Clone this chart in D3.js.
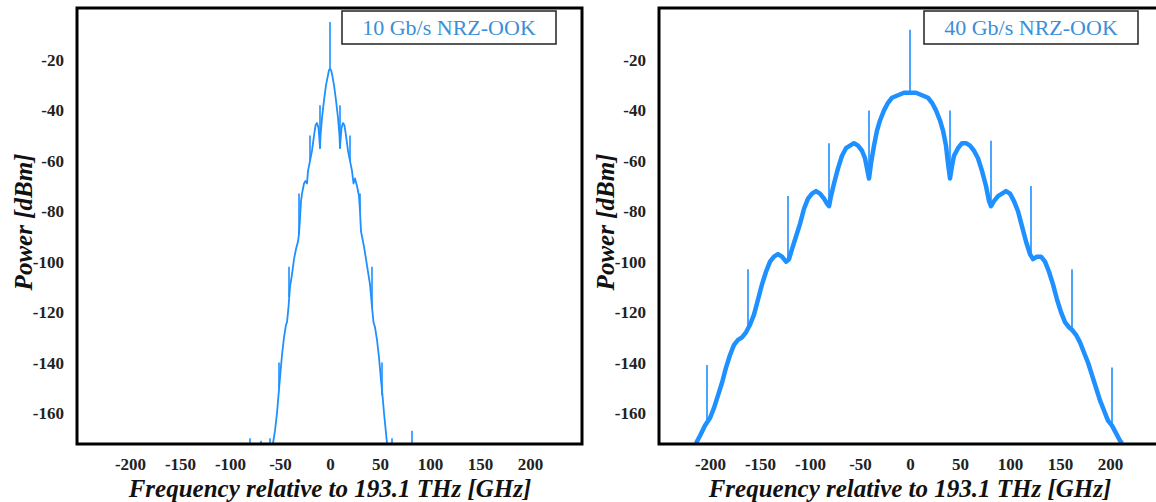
<!DOCTYPE html>
<html>
<head>
<meta charset="utf-8">
<script src="https://cdn.jsdelivr.net/npm/d3@7"></script>
<style>
  body { margin: 0; background: #fff; }
  svg { display: block; }
  text { font-family: "Liberation Serif", "DejaVu Serif", serif; }
</style>
</head>
<body>
<svg id="Viz"></svg>
<script>
width = 1156,
height = 502;

// 10 Gb/s NRZ-OOK spectrum, frequency [GHz] vs power [dBm]
var freq10 = [-57, -55, -53, -51.5, -50, -48, -46, -44, -43, -41.5, -40, -38, -36, -34, -32, -31, -30, -29, -28, -26, -24.5, -23, -22, -20, -18, -16, -14.5, -13, -11.5, -10.5, -10, -9.5, -8, -6, -4, -2, -1, 0,
  1, 2, 4, 6, 8, 9.5, 10, 10.5, 11.5, 13, 14.5, 16, 18, 20, 22, 23.5, 25, 27, 29, 30, 31, 32.5, 34, 36, 38, 40, 42, 43.5, 45, 47, 49, 51, 52.5, 54, 55.5, 57];
var power10 = [-172, -167, -160, -153, -146, -137, -130, -125, -124, -118, -110, -105, -99, -95, -92, -89, -83, -76, -73, -69, -68, -69, -64, -60, -56, -50, -46, -45, -47, -52, -55, -50, -43, -36, -30, -26, -24, -23.5,
  -24, -25.5, -30, -36, -43, -50, -55, -52, -47, -45, -46, -50, -56, -60, -64, -69, -67, -70, -74, -80, -88, -91, -94, -99, -104, -109, -118, -124, -126, -131, -138, -147, -153, -160, -166, -172];
// discrete tones: frequency, tip and foot
var toneFreq10 = [-80, -69, -60, -51, -41, -31, -20, -10, 0, 10, 20, 30, 42, 52, 62, 82];
var toneTop10 = [-170, -171, -170, -140, -102, -73, -50, -38, -5, -38, -50, -73, -102, -140, -170, -167];
var toneBase10 = [-172.3, -172.3, -172.3, -150, -114, -89, -60, -55, -23.5, -55, -60, -80, -118, -153, -172.3, -172.3];

// 40 Gb/s NRZ-OOK spectrum
var freq40 = [-214, -210, -205, -200, -196, -192, -188, -184, -180, -176, -172, -168, -164, -160, -156, -152, -148, -144, -140, -136, -132, -128, -124, -121, -118, -114, -110, -106, -102, -98, -94, -90, -86, -83, -81, -79, -76, -72, -68, -64, -60, -56, -52, -48, -45, -43, -41, -39, -36, -33, -30, -26, -22, -18, -12, -6, 0,
  6, 12, 18, 22, 26, 30, 33, 36, 38, 40, 42, 44, 48, 52, 56, 60, 64, 68, 72, 76, 79, 81, 84, 88, 92, 96, 100, 104, 108, 112, 116, 120, 123, 127, 131, 135, 139, 143, 147, 151, 155, 159, 162, 166, 170, 174, 178, 182, 186, 190, 194, 198, 202, 206, 210, 212];
var power40 = [-172, -169, -165, -162, -158, -153, -148, -142, -137, -133, -131, -130, -128, -125, -121, -115, -109, -104, -100, -98, -97, -98, -100, -99, -95, -90, -85, -79, -75, -73, -72, -73, -75, -77, -78, -74, -69, -63, -58, -55, -54, -53, -54, -56, -59, -63, -67, -61, -54, -48, -44, -40, -37, -35, -34, -33, -33,
  -33, -34, -35, -37, -40, -44, -48, -54, -61, -67, -62, -58, -55, -53, -53, -54, -56, -59, -64, -70, -76, -78, -76, -74, -73, -72, -73, -76, -80, -86, -92, -97, -99, -98, -98, -100, -104, -109, -115, -120, -124, -126, -127, -129, -132, -136, -140, -145, -150, -155, -159, -163, -165, -168, -171, -172];
var toneFreq40 = [-203, -162, -122, -81, -41, 0, 40, 81, 121, 162, 202];
var toneTop40 = [-141, -103, -74, -53, -40, -8, -40, -52, -70, -103, -142];
var toneBase40 = [-164, -126, -100, -78, -67, -33, -67, -78, -98, -127, -165];

var xTicks = [-200, -150, -100, -50, 0, 50, 100, 150, 200];
var yTicks = [-20, -40, -60, -80, -100, -120, -140, -160];
var labels = ["10 Gb/s NRZ-OOK", "40 Gb/s NRZ-OOK"];

var blue = "#1e90ff";

function panel(svg, x, data, tones, label, lw) {
  var y = d3.scaleLinear().domain([-172.3, 0.6]).range([444, 8]);
  var x0 = x.range()[0], x1 = x.range()[1];
  var g = svg.append("g");

  // y axis labels
  g.append("g")
    .attr("transform", "translate(" + x0 + ",0)")
    .call(d3.axisLeft(y).tickValues(yTicks).tickSize(0).tickPadding(13).tickFormat(d => String(d)))
    .call(a => a.select(".domain").remove())
    .selectAll("text")
      .style("font-family", '"Liberation Serif", serif')
      .style("font-weight", "bold")
      .style("font-size", "17px")
      .attr("fill", "#222");

  // x axis labels
  g.append("g")
    .attr("transform", "translate(0,444)")
    .call(d3.axisBottom(x).tickValues(xTicks).tickSize(0).tickPadding(14).tickFormat(d => String(d)))
    .call(a => a.select(".domain").remove())
    .selectAll("text")
      .style("font-family", '"Liberation Serif", serif')
      .style("font-weight", "bold")
      .style("font-size", "17px")
      .attr("fill", "#222");

  // tones
  g.append("g")
    .selectAll("line")
    .data(tones)
    .enter()
    .append("line")
      .attr("x1", d => x(d.f))
      .attr("x2", d => x(d.f))
      .attr("y1", d => y(d.top))
      .attr("y2", d => y(d.base))
      .attr("stroke", blue)
      .attr("stroke-width", 1.6);

  // spectrum
  g.append("path")
    .datum(data)
    .attr("fill", "none")
    .attr("stroke", blue)
    .attr("stroke-width", lw)
    .attr("stroke-linejoin", "round")
    .attr("d", d3.line().x(d => x(d.f)).y(d => y(d.p)));

  // frame
  g.append("rect")
    .attr("x", x0).attr("y", 8)
    .attr("width", x1 - x0).attr("height", 436)
    .attr("fill", "none")
    .attr("stroke", "#000")
    .attr("stroke-width", 3);

  // label box
  g.append("rect")
    .attr("x", x0 + 265).attr("y", 11)
    .attr("width", 214).attr("height", 33)
    .attr("fill", "#fff")
    .attr("stroke", "#222")
    .attr("stroke-width", 1.5);
  g.append("text")
    .attr("x", x0 + 372).attr("y", 35)
    .attr("text-anchor", "middle")
    .attr("fill", "#3a8fd8")
    .style("font-size", "22px")
    .text(label);

  // axis titles
  g.append("text")
    .attr("x", x(0)).attr("y", 497)
    .attr("text-anchor", "middle")
    .style("font-weight", "bold")
    .style("font-style", "italic")
    .style("font-size", "25px")
    .attr("fill", "#111")
    .text("Frequency relative to 193.1 THz [GHz]");
  g.append("text")
    .attr("transform", "translate(" + (x0 - 45) + ",222) rotate(-90)")
    .attr("text-anchor", "middle")
    .style("font-weight", "bold")
    .style("font-style", "italic")
    .style("font-size", "25px")
    .attr("fill", "#111")
    .text("Power [dBm]");
}

function first() {
  var svg = d3.select("#Viz");
  svg.attr("width", width).attr("height", height);

  var data10 = freq10.map((f, i) => ({f: f, p: power10[i]}));
  var tones10 = toneFreq10.map((f, i) => ({f: f, top: toneTop10[i], base: toneBase10[i]}));
  var data40 = freq40.map((f, i) => ({f: f, p: power40[i]}));
  var tones40 = toneFreq40.map((f, i) => ({f: f, top: toneTop40[i], base: toneBase40[i]}));

  var xLeft = d3.scaleLinear().domain([-253, 252]).range([77, 582]);
  var xRight = d3.scaleLinear().domain([-251, 252]).range([659, 1162]);

  panel(svg, xLeft, data10, tones10, labels[0], 1.8);
  panel(svg, xRight, data40, tones40, labels[1], 4.5);
}

document.addEventListener('DOMContentLoaded', () => {
  first();
});
</script>
</body>
</html>
